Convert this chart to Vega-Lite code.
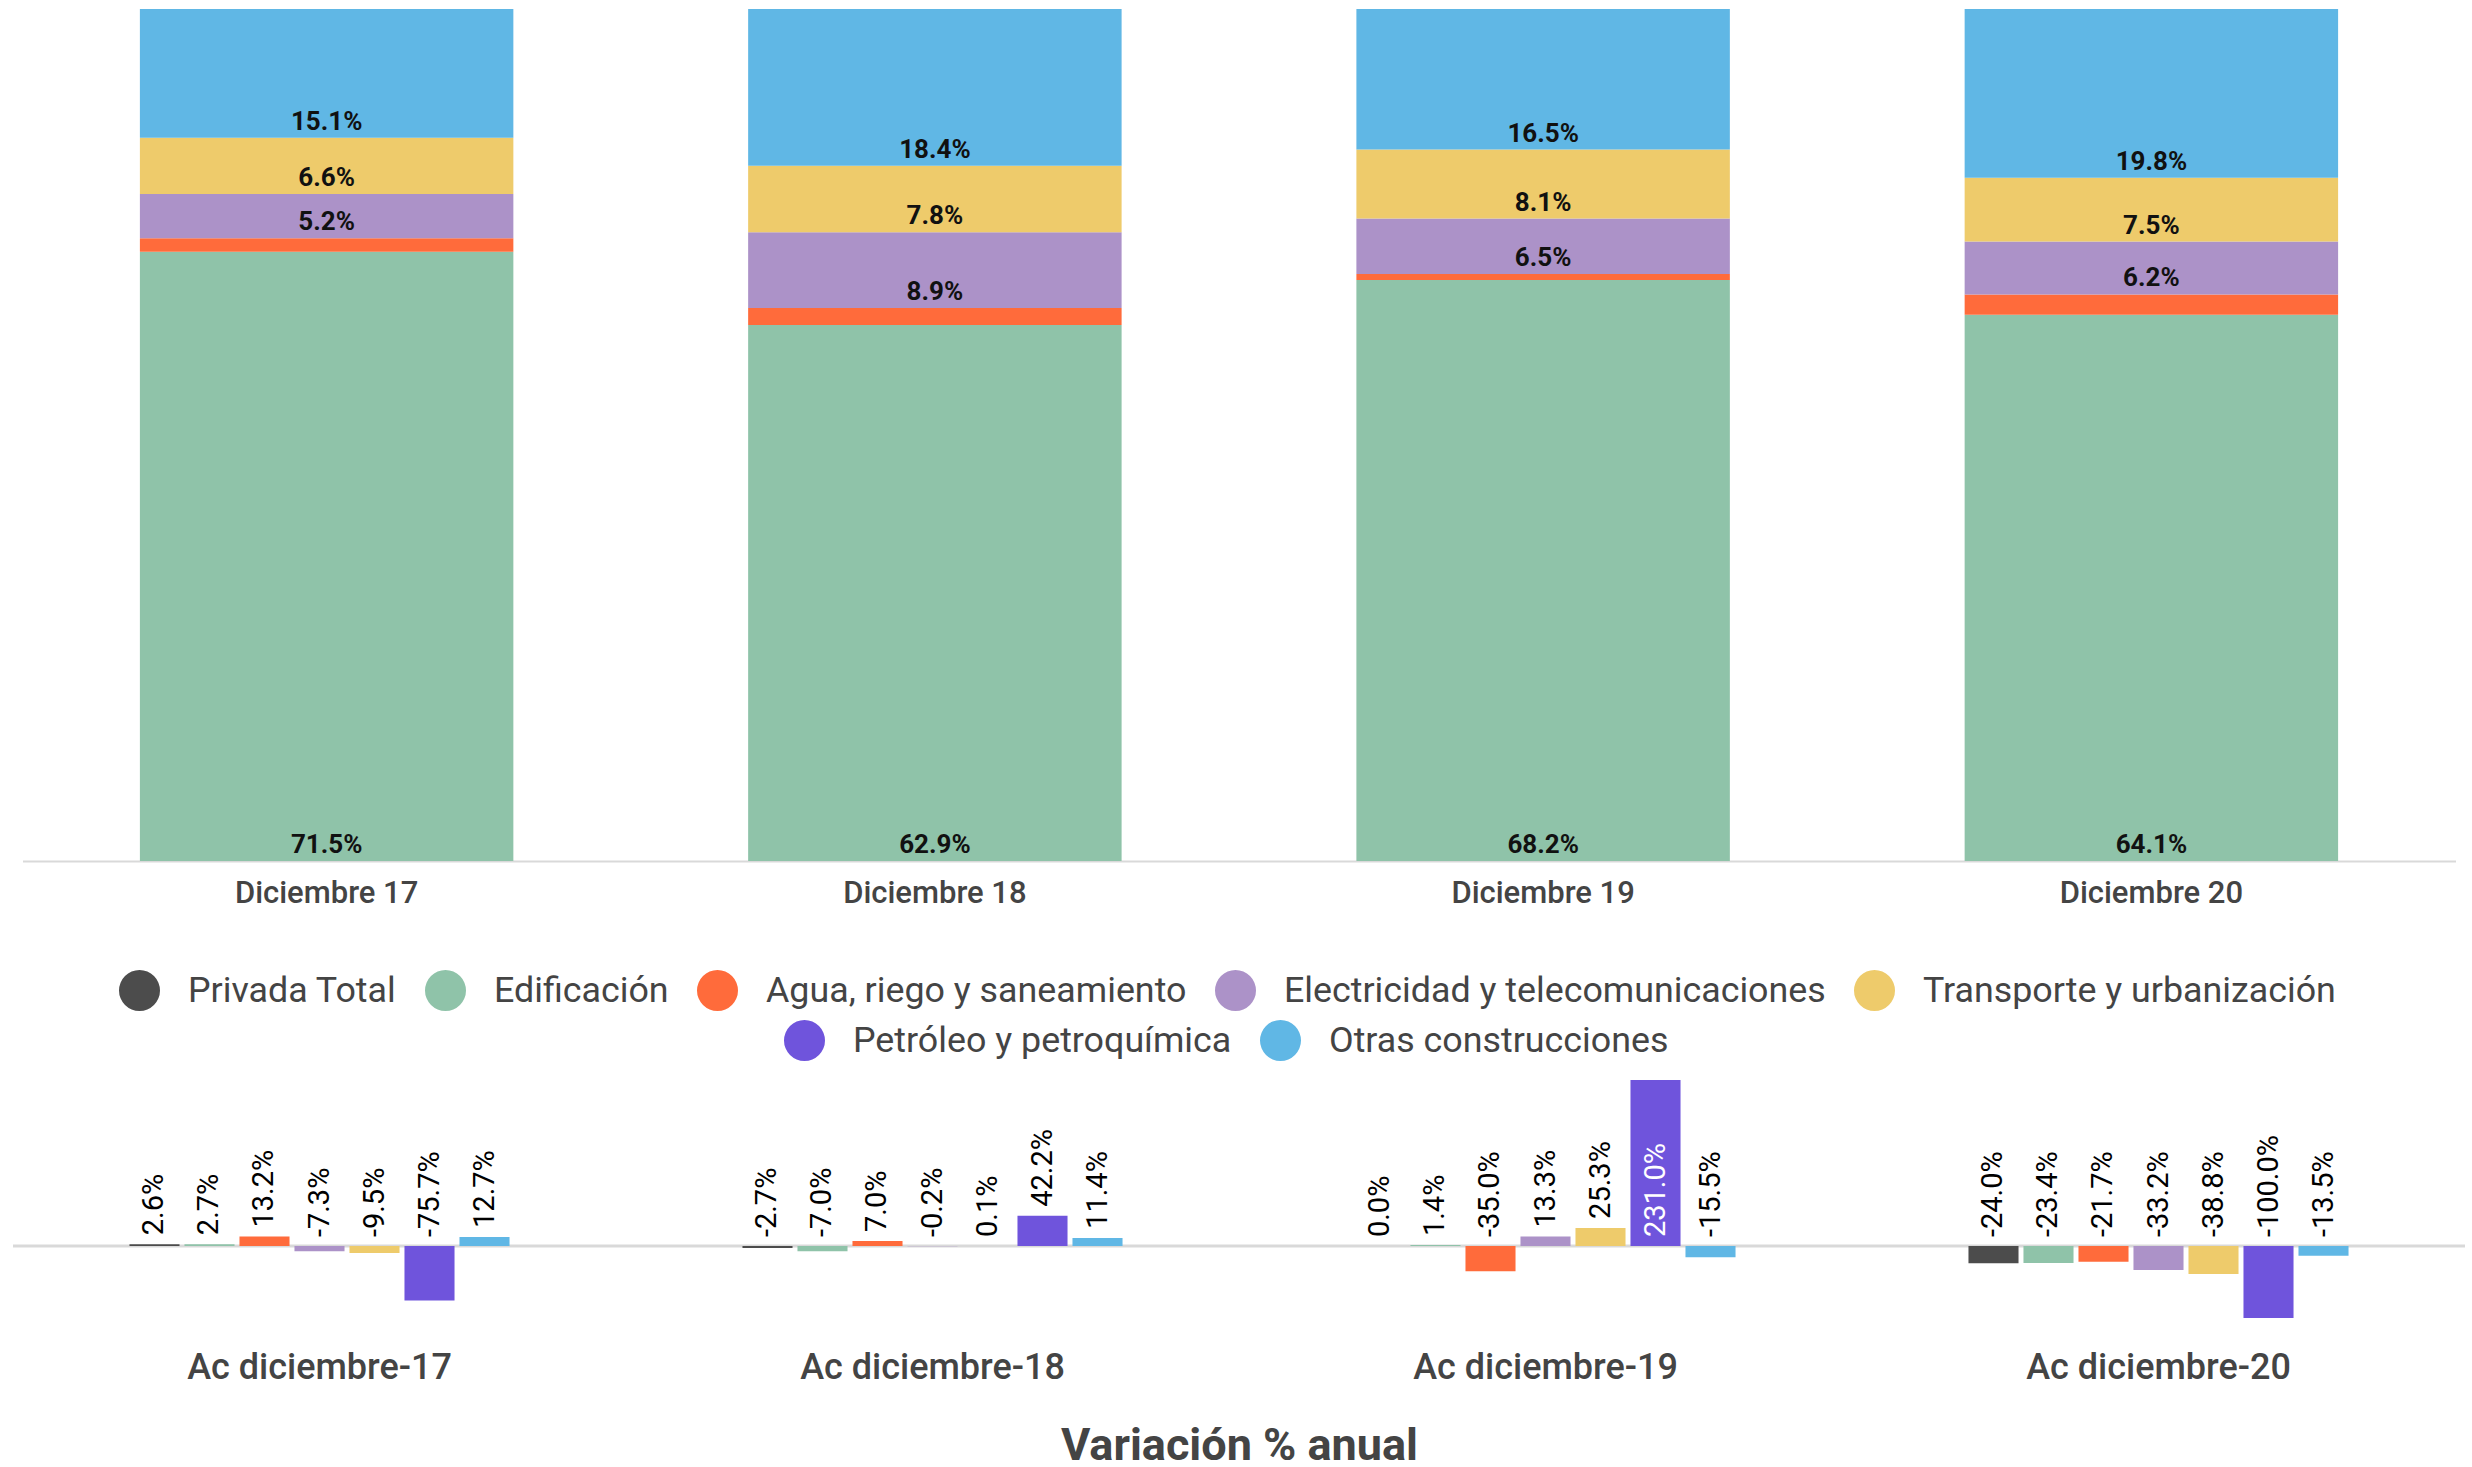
{
  "$schema": "https://vega.github.io/schema/vega-lite/v6.json",
  "background": "white",
  "padding": {"left": 11, "top": 9, "right": 9, "bottom": 4},
  "bounds": "flush",
  "center": true,
  "spacing": 219,
  "config": {"view": {"stroke": null}, "font": "Roboto"},
  "datasets": {
    "share": [
      {"periodo": "Diciembre 17", "cat": "Edificación", "v": 71.5},
      {"periodo": "Diciembre 17", "cat": "Agua, riego y saneamiento", "v": 1.6},
      {"periodo": "Diciembre 17", "cat": "Electricidad y telecomunicaciones", "v": 5.2},
      {"periodo": "Diciembre 17", "cat": "Transporte y urbanización", "v": 6.6},
      {"periodo": "Diciembre 17", "cat": "Otras construcciones", "v": 15.1},
      {"periodo": "Diciembre 18", "cat": "Edificación", "v": 62.9},
      {"periodo": "Diciembre 18", "cat": "Agua, riego y saneamiento", "v": 2.0},
      {"periodo": "Diciembre 18", "cat": "Electricidad y telecomunicaciones", "v": 8.9},
      {"periodo": "Diciembre 18", "cat": "Transporte y urbanización", "v": 7.8},
      {"periodo": "Diciembre 18", "cat": "Otras construcciones", "v": 18.4},
      {"periodo": "Diciembre 19", "cat": "Edificación", "v": 68.2},
      {"periodo": "Diciembre 19", "cat": "Agua, riego y saneamiento", "v": 0.7},
      {"periodo": "Diciembre 19", "cat": "Electricidad y telecomunicaciones", "v": 6.5},
      {"periodo": "Diciembre 19", "cat": "Transporte y urbanización", "v": 8.1},
      {"periodo": "Diciembre 19", "cat": "Otras construcciones", "v": 16.5},
      {"periodo": "Diciembre 20", "cat": "Edificación", "v": 64.1},
      {"periodo": "Diciembre 20", "cat": "Agua, riego y saneamiento", "v": 2.4},
      {"periodo": "Diciembre 20", "cat": "Electricidad y telecomunicaciones", "v": 6.2},
      {"periodo": "Diciembre 20", "cat": "Transporte y urbanización", "v": 7.5},
      {"periodo": "Diciembre 20", "cat": "Otras construcciones", "v": 19.8}
    ],
    "growth": [
      {"periodo": "Ac diciembre-17", "cat": "Privada Total", "v": 2.6},
      {"periodo": "Ac diciembre-17", "cat": "Edificación", "v": 2.7},
      {"periodo": "Ac diciembre-17", "cat": "Agua, riego y saneamiento", "v": 13.2},
      {"periodo": "Ac diciembre-17", "cat": "Electricidad y telecomunicaciones", "v": -7.3},
      {"periodo": "Ac diciembre-17", "cat": "Transporte y urbanización", "v": -9.5},
      {"periodo": "Ac diciembre-17", "cat": "Petróleo y petroquímica", "v": -75.7},
      {"periodo": "Ac diciembre-17", "cat": "Otras construcciones", "v": 12.7},
      {"periodo": "Ac diciembre-18", "cat": "Privada Total", "v": -2.7},
      {"periodo": "Ac diciembre-18", "cat": "Edificación", "v": -7.0},
      {"periodo": "Ac diciembre-18", "cat": "Agua, riego y saneamiento", "v": 7.0},
      {"periodo": "Ac diciembre-18", "cat": "Electricidad y telecomunicaciones", "v": -0.2},
      {"periodo": "Ac diciembre-18", "cat": "Transporte y urbanización", "v": 0.1},
      {"periodo": "Ac diciembre-18", "cat": "Petróleo y petroquímica", "v": 42.2},
      {"periodo": "Ac diciembre-18", "cat": "Otras construcciones", "v": 11.4},
      {"periodo": "Ac diciembre-19", "cat": "Privada Total", "v": 0.0},
      {"periodo": "Ac diciembre-19", "cat": "Edificación", "v": 1.4},
      {"periodo": "Ac diciembre-19", "cat": "Agua, riego y saneamiento", "v": -35.0},
      {"periodo": "Ac diciembre-19", "cat": "Electricidad y telecomunicaciones", "v": 13.3},
      {"periodo": "Ac diciembre-19", "cat": "Transporte y urbanización", "v": 25.3},
      {"periodo": "Ac diciembre-19", "cat": "Petróleo y petroquímica", "v": 231.0},
      {"periodo": "Ac diciembre-19", "cat": "Otras construcciones", "v": -15.5},
      {"periodo": "Ac diciembre-20", "cat": "Privada Total", "v": -24.0},
      {"periodo": "Ac diciembre-20", "cat": "Edificación", "v": -23.4},
      {"periodo": "Ac diciembre-20", "cat": "Agua, riego y saneamiento", "v": -21.7},
      {"periodo": "Ac diciembre-20", "cat": "Electricidad y telecomunicaciones", "v": -33.2},
      {"periodo": "Ac diciembre-20", "cat": "Transporte y urbanización", "v": -38.8},
      {"periodo": "Ac diciembre-20", "cat": "Petróleo y petroquímica", "v": -100.0},
      {"periodo": "Ac diciembre-20", "cat": "Otras construcciones", "v": -13.5}
    ]
  },
  "resolve": {"scale": {"color": "shared"}, "legend": {"color": "independent"}},
  "vconcat": [
    {
      "width": 2433,
      "height": 852,
      "data": {"name": "share"},
      "transform": [
        {"calculate": "indexof(['Edificación','Agua, riego y saneamiento','Electricidad y telecomunicaciones','Transporte y urbanización','Otras construcciones'], datum.cat)", "as": "ord"},
        {"stack": "v", "groupby": ["periodo"], "sort": [{"field": "ord", "order": "ascending"}], "as": ["v0", "v1"]},
        {"calculate": "replace(format(datum.v, '.1f'), '\u2212', '-') + '%'", "as": "lbl"}
      ],
      "layer": [
        {
          "mark": {"type": "bar"},
          "encoding": {
            "x": {"field": "periodo", "type": "nominal", "sort": null, "title": null,
              "scale": {"paddingInner": 0.386, "paddingOuter": 0.193},
              "axis": {"domainColor": "#d9d9d9", "domainWidth": 2, "ticks": false, "labelAngle": 0, "labelFontSize": 31, "labelFontWeight": 500, "labelColor": "#444444", "labelPadding": 17, "labelLimit": 1000}},
            "y": {"field": "v0", "type": "quantitative", "scale": {"domain": [0, 100], "nice": false}, "axis": null},
            "y2": {"field": "v1"},
            "color": {"field": "cat", "type": "nominal", "legend": null,
              "scale": {"domain": ["Privada Total", "Edificación", "Agua, riego y saneamiento", "Electricidad y telecomunicaciones", "Transporte y urbanización", "Petróleo y petroquímica", "Otras construcciones"],
                "range": ["#4c4c4c", "#8fc3a9", "#ff6b3b", "#ac92c8", "#eecb6b", "#6f54dc", "#60b7e5"]}}
          }
        },
        {
          "transform": [{"filter": "datum.cat != 'Agua, riego y saneamiento'"}],
          "mark": {"type": "text", "baseline": "middle", "dy": -16, "fontSize": 26, "fontWeight": "bold", "font": "Roboto", "color": "#111111"},
          "encoding": {
            "x": {"field": "periodo", "type": "nominal", "sort": null},
            "y": {"field": "v0", "type": "quantitative"},
            "text": {"field": "lbl"}
          }
        }
      ]
    },
    {
      "width": 2452,
      "height": 238,
      "data": {"name": "growth"},
      "transform": [
        {"calculate": "replace(format(datum.v, '.1f'), '\u2212', '-') + '%'", "as": "lbl"},
        {"calculate": "datum.v > 200 ? 0 : max(datum.v, 0)", "as": "ly"}
      ],
      "resolve": {"scale": {"color": "shared"}, "legend": {"color": "independent"}},
      "layer": [
        {
          "data": {"values": [{}]},
          "mark": {"type": "rule", "color": "#d9d9d9", "strokeWidth": 3},
          "encoding": {"y": {"datum": 0, "type": "quantitative", "scale": {"domain": [-100, 231], "nice": false, "zero": true}, "axis": null}}
        },
        {
          "transform": [{"filter": "datum.cat != 'Petróleo y petroquímica' && datum.cat != 'Otras construcciones'"}],
          "mark": {"type": "bar"},
          "encoding": {
            "x": {"field": "periodo", "type": "nominal", "sort": null, "title": "Variación % anual",
              "scale": {"paddingInner": 0.38, "paddingOuter": 0.19},
              "axis": {"domain": false, "ticks": false, "labelAngle": 0, "labelFontSize": 36, "labelFontWeight": 500, "labelColor": "#444444", "labelPadding": 32, "labelLimit": 1000, "titleFontSize": 45, "titleFontWeight": "bold", "titleColor": "#444444", "titlePadding": 38}},
            "xOffset": {"field": "cat", "type": "nominal",
              "scale": {"domain": ["Privada Total", "Edificación", "Agua, riego y saneamiento", "Electricidad y telecomunicaciones", "Transporte y urbanización", "Petróleo y petroquímica", "Otras construcciones"], "paddingInner": 0.09, "paddingOuter": 0}},
            "y": {"field": "v", "type": "quantitative", "scale": {"domain": [-100, 231], "nice": false}, "axis": null},
            "color": {"field": "cat", "type": "nominal",
              "scale": {"domain": ["Privada Total", "Edificación", "Agua, riego y saneamiento", "Electricidad y telecomunicaciones", "Transporte y urbanización", "Petróleo y petroquímica", "Otras construcciones"],
                "range": ["#4c4c4c", "#8fc3a9", "#ff6b3b", "#ac92c8", "#eecb6b", "#6f54dc", "#60b7e5"]},
              "legend": {"values": ["Privada Total", "Edificación", "Agua, riego y saneamiento", "Electricidad y telecomunicaciones", "Transporte y urbanización"],
                "orient": "none", "legendX": 106, "legendY": -110, "direction": "horizontal", "title": null,
                "symbolType": "circle", "symbolSize": 1681, "symbolStrokeWidth": 0, "symbolOpacity": 1,
                "labelFontSize": 35.8, "labelFont": "Roboto", "labelColor": "#444444", "labelOffset": 28, "columnPadding": 28, "labelLimit": 800, "padding": 0, "offset": 0}}
          }
        },
        {
          "transform": [{"filter": "datum.cat == 'Petróleo y petroquímica' || datum.cat == 'Otras construcciones'"}],
          "mark": {"type": "bar"},
          "encoding": {
            "x": {"field": "periodo", "type": "nominal", "sort": null},
            "xOffset": {"field": "cat", "type": "nominal"},
            "y": {"field": "v", "type": "quantitative"},
            "color": {"field": "cat", "type": "nominal",
              "legend": {"values": ["Petróleo y petroquímica", "Otras construcciones"],
                "orient": "none", "legendX": 771, "legendY": -60, "direction": "horizontal", "title": null,
                "symbolType": "circle", "symbolSize": 1681, "symbolStrokeWidth": 0, "symbolOpacity": 1,
                "labelFontSize": 35.8, "labelFont": "Roboto", "labelColor": "#444444", "labelOffset": 28, "columnPadding": 28, "labelLimit": 800, "padding": 0, "offset": 0}}
          }
        },
        {
          "mark": {"type": "text", "angle": 270, "align": "left", "baseline": "middle", "dx": 9, "fontSize": 29, "font": "Roboto"},
          "encoding": {
            "x": {"field": "periodo", "type": "nominal", "sort": null},
            "xOffset": {"field": "cat", "type": "nominal"},
            "y": {"field": "ly", "type": "quantitative"},
            "text": {"field": "lbl"},
            "color": {"condition": {"test": "datum.v > 200", "value": "white"}, "value": "black"}
          }
        }
      ]
    }
  ]
}
